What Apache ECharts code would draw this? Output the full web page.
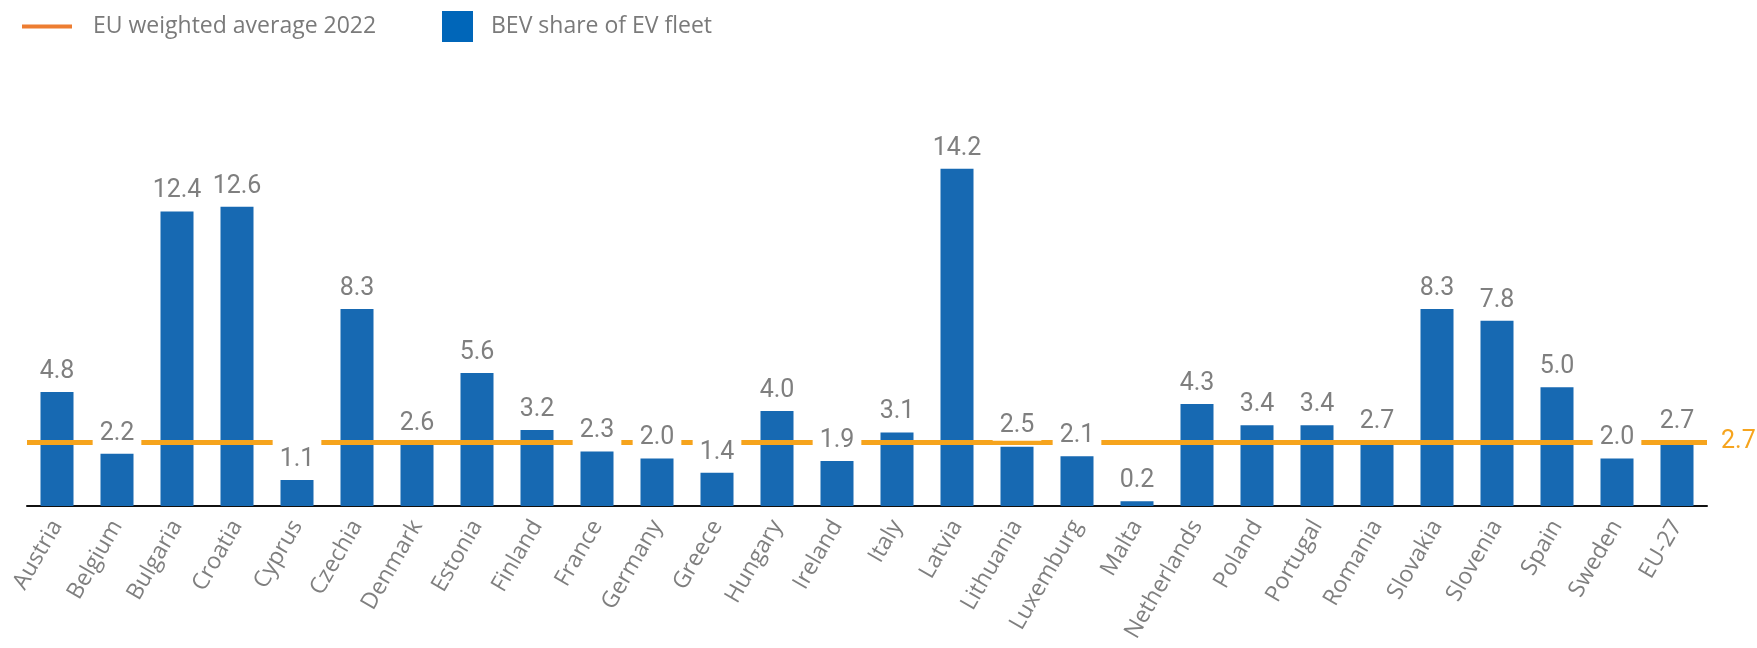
<!DOCTYPE html>
<html>
<head>
<meta charset="utf-8">
<title>BEV share of EV fleet</title>
<script src="https://cdn.jsdelivr.net/npm/echarts@6/dist/echarts.min.js"></script>
<style>
  html, body { margin: 0; padding: 0; background: #ffffff; }
  #chart { width: 1757px; height: 648px; }
</style>
</head>
<body>
<div id="chart"></div>
<script>
// Countries plus the EU-27 aggregate
const countries = [
  'Austria', 'Belgium', 'Bulgaria', 'Croatia', 'Cyprus', 'Czechia', 'Denmark',
  'Estonia', 'Finland', 'France', 'Germany', 'Greece', 'Hungary', 'Ireland',
  'Italy', 'Latvia', 'Lithuania', 'Luxemburg', 'Malta', 'Netherlands', 'Poland',
  'Portugal', 'Romania', 'Slovakia', 'Slovenia', 'Spain', 'Sweden', 'EU-27'
];

// BEV share of EV fleet
const bevShare = [
  4.8, 2.2, 12.4, 12.6, 1.1, 8.3, 2.6,
  5.6, 3.2, 2.3, 2.0, 1.4, 4.0, 1.9,
  3.1, 14.2, 2.5, 2.1, 0.2, 4.3, 3.4,
  3.4, 2.7, 8.3, 7.8, 5.0, 2.0, 2.7
];

// EU weighted average 2022
const euAverage = 2.7;

const AVG_NAME = 'EU weighted average 2022';
const BAR_NAME = 'BEV share of EV fleet';
const grey = '#7f7f7f';
const barBlue = '#1769b2';
const avgOrange = '#f6a41d';

const chart = echarts.init(document.getElementById('chart'), null, { renderer: 'canvas' });

chart.setOption({
  animation: false,
  backgroundColor: '#ffffff',
  textStyle: { fontFamily: 'Open Sans' },
  legend: [
    {
      left: 17, top: 10,
      itemWidth: 50, itemHeight: 4,
      data: [{ name: AVG_NAME, icon: 'rect', itemStyle: { color: '#ed7d31' } }],
      textStyle: { fontSize: 23, color: '#7a7a7a', fontFamily: 'Open Sans', padding: [0, 0, 0, 16] },
      selectedMode: false
    },
    {
      left: 437, top: 6,
      itemWidth: 31, itemHeight: 31,
      data: [{ name: BAR_NAME, icon: 'rect', itemStyle: { color: '#0066b9' } }],
      textStyle: { fontSize: 23, color: '#7a7a7a', fontFamily: 'Open Sans', padding: [0, 0, 0, 13] },
      selectedMode: false
    }
  ],
  grid: { left: 27, right: 50, top: 126, bottom: 142, containLabel: false },
  xAxis: {
    type: 'category',
    data: countries,
    axisLine: { show: true, lineStyle: { color: '#111111', width: 2 } },
    axisTick: { show: false },
    axisLabel: {
      interval: 0,
      rotate: 60,
      margin: 16,
      color: grey,
      fontSize: 23,
      fontFamily: 'Open Sans'
    }
  },
  yAxis: {
    type: 'value',
    min: 0,
    max: 16,
    show: false,
    splitLine: { show: false }
  },
  series: [
    {
      name: BAR_NAME,
      type: 'bar',
      data: bevShare,
      barWidth: 33,
      z: 2,
      itemStyle: { color: barBlue }
    },
    {
      name: AVG_NAME,
      type: 'line',
      data: [],
      z: 3,
      markLine: {
        z: 3,
        silent: true,
        symbol: ['none', 'none'],
        lineStyle: { color: avgOrange, width: 5, type: 'solid' },
        label: {
          show: true,
          position: 'end',
          distance: 14,
          color: avgOrange,
          fontSize: 25,
          fontFamily: 'Roboto',
          formatter: () => euAverage.toFixed(1)
        },
        data: [{ yAxis: euAverage }]
      }
    },
    {
      // value labels on white boxes that sit above the average line
      name: 'values',
      type: 'bar',
      data: bevShare,
      barWidth: 33,
      barGap: '-100%',
      z: 4,
      itemStyle: { color: 'rgba(0,0,0,0)' },
      label: {
        show: true,
        position: 'top',
        distance: 6,
        color: grey,
        fontSize: 25,
        fontFamily: 'Roboto',
        backgroundColor: '#ffffff',
        padding: [9, 7, 2, 7],
        formatter: p => Number(p.value).toFixed(1)
      }
    }
  ]
});
</script>
</body>
</html>
